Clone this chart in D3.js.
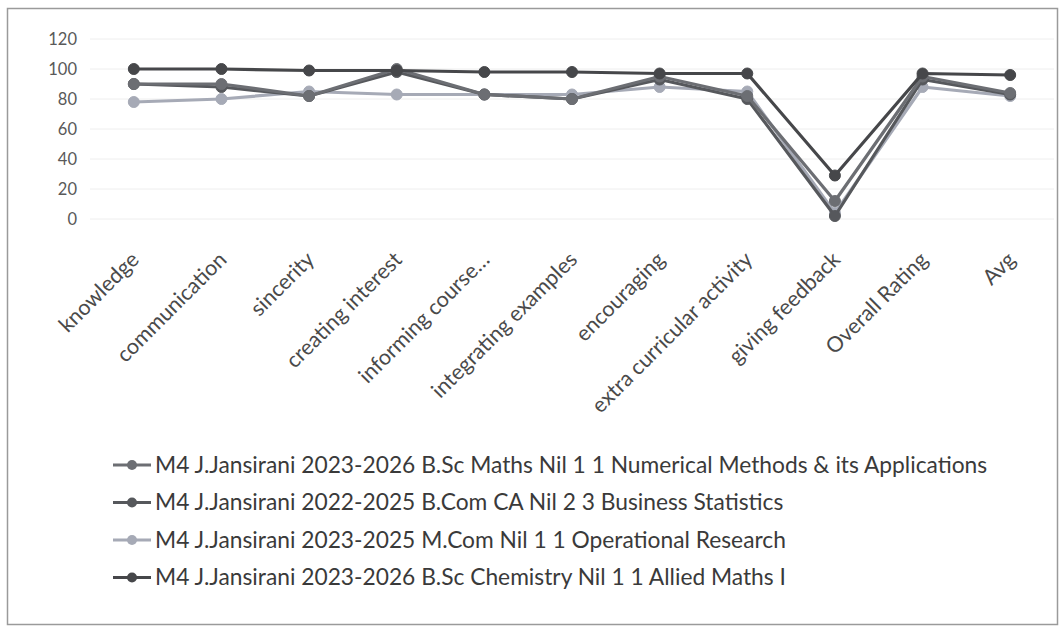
<!DOCTYPE html>
<html><head><meta charset="utf-8">
<script src="https://cdn.jsdelivr.net/npm/d3@7/dist/d3.min.js"></script>
<style>
body{margin:0;background:#fff;}
svg text{font-family:Lato,"Open Sans",sans-serif;}
</style></head>
<body><svg id="c" width="1061" height="632"></svg>
<script>
const categories = ["knowledge","communication","sincerity","creating interest","informing course…","integrating examples","encouraging","extra curricular activity","giving feedback","Overall Rating","Avg"];
const yTicks = [0,20,40,60,80,100,120];
const seriesNames = [
 "M4 J.Jansirani 2023-2026 B.Sc Maths Nil 1 1 Numerical Methods & its Applications",
 "M4 J.Jansirani 2022-2025 B.Com CA Nil 2 3 Business Statistics",
 "M4 J.Jansirani 2023-2025 M.Com Nil 1 1 Operational Research",
 "M4 J.Jansirani 2023-2026 B.Sc Chemistry Nil 1 1 Allied Maths I"
];
const numericalMethods = [90, 90, 82, 100, 83, 80, 95, 82, 12, 95, 84];
const businessStats    = [90, 88, 82, 98, 83, 80, 93, 80, 2, 93, 83];
const operationalRes   = [78, 80, 85, 83, 83, 83, 88, 85, 4, 88, 82];
const alliedMaths      = [100, 100, 99, 99, 98, 98, 97, 97, 29, 97, 96];
const seriesValues = [numericalMethods, businessStats, operationalRes, alliedMaths];
const colors = ["#6c6e73", "#56585c", "#a6aab6", "#46474a"];

const svg = d3.select("#c");
svg.append("rect").attr("x",7.5).attr("y",8.5).attr("width",1050).attr("height",616)
  .attr("fill","#fff").attr("stroke","#9a9a9a").attr("stroke-width",1.5);

const x = d3.scalePoint().domain(categories).range([90,1054]).padding(0.5);
const y = d3.scaleLinear().domain([0,120]).range([219,39]);

// grid
svg.append("g").selectAll("line").data(yTicks).join("line")
  .attr("x1",90).attr("x2",1054).attr("y1",d=>y(d)).attr("y2",d=>y(d))
  .attr("stroke","#eeeeee").attr("stroke-width",1);

// y axis
const ya = svg.append("g").attr("transform","translate(90,0)")
  .call(d3.axisLeft(y).tickValues(yTicks).tickSize(0).tickPadding(13));
ya.select(".domain").remove();
ya.selectAll("text").attr("font-size",16.5).attr("fill","#595959");

// x axis labels
const xa = svg.append("g").attr("transform","translate(0,219)")
  .call(d3.axisBottom(x).tickSize(0).tickPadding(0));
xa.select(".domain").remove();
xa.selectAll("text").attr("font-size",21.5).attr("fill","#4a4a4a")
  .attr("text-anchor","end").attr("dy",0)
  .attr("transform","translate(6,42) rotate(-45)");

// lines
const line = d3.line().x((d,i)=>x(categories[i])).y(d=>y(d));
const order = [2,1,0,3];
order.forEach(si=>{
  const g = svg.append("g");
  g.append("path").datum(seriesValues[si]).attr("d",line).attr("fill","none")
    .attr("stroke",colors[si]).attr("stroke-width",3.2).attr("stroke-linejoin","round");
  g.selectAll("circle").data(seriesValues[si]).join("circle")
    .attr("cx",(d,i)=>x(categories[i])).attr("cy",d=>y(d)).attr("r",5.5)
    .attr("fill",colors[si]).attr("stroke",colors[si]);
});

// legend
const lg = svg.append("g");
const texts = [];
seriesNames.forEach((n,i)=>{
  const yy = 465 + i*37.5;
  lg.append("line").attr("x1",113).attr("x2",151).attr("y1",yy).attr("y2",yy)
    .attr("stroke",colors[i]).attr("stroke-width",3);
  lg.append("circle").attr("cx",132).attr("cy",yy).attr("r",5).attr("fill",colors[i]);
  texts.push(lg.append("text").attr("x",155).attr("y",yy).attr("dy","0.35em")
    .attr("font-size",20).attr("fill","#3a3a3a").text(n));
});
// fit legend font so first entry spans the same width as the reference
const w0 = texts[0].node().getComputedTextLength();
const fs = Math.max(16, Math.min(23, 20 * 833 / w0));
texts.forEach(t=>t.attr("font-size",fs));
</script></body></html>
